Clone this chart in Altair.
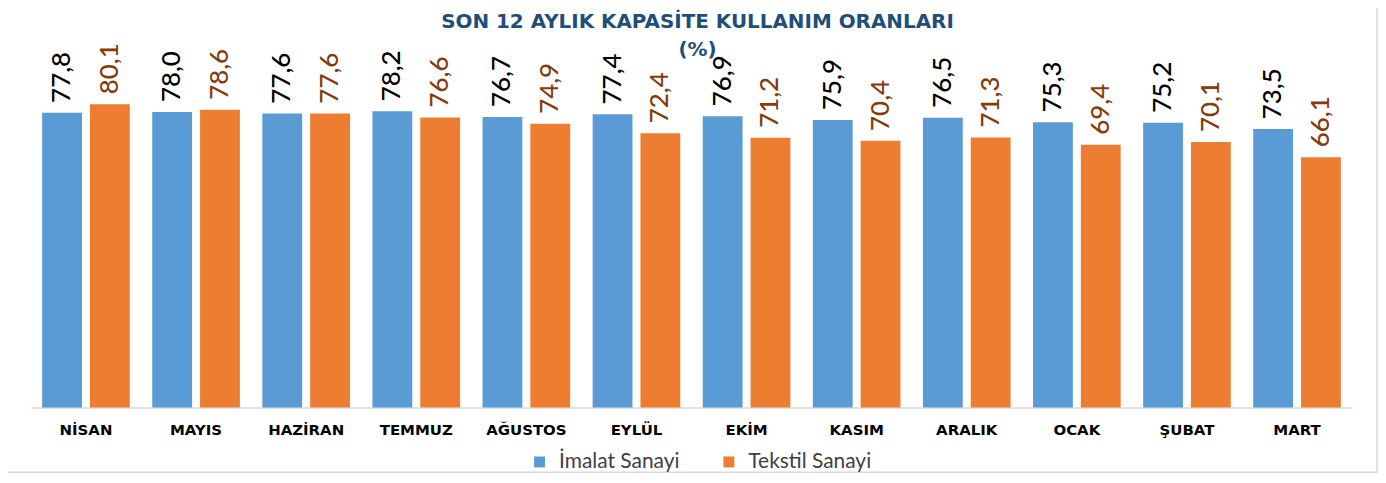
import altair as alt
import pandas as pd

months = ["NİSAN", "MAYIS", "HAZİRAN", "TEMMUZ", "AĞUSTOS", "EYLÜL",
          "EKİM", "KASIM", "ARALIK", "OCAK", "ŞUBAT", "MART"]
series_names = ["İmalat Sanayi", "Tekstil Sanayi"]
imalat = [77.8, 78.0, 77.6, 78.2, 76.7, 77.4, 76.9, 75.9, 76.5, 75.3, 75.2, 73.5]
tekstil = [80.1, 78.6, 77.6, 76.6, 74.9, 72.4, 71.2, 70.4, 71.3, 69.4, 70.1, 66.1]

rows = []
for m, a, b in zip(months, imalat, tekstil):
    rows.append({"ay": m, "seri": series_names[0], "deger": a})
    rows.append({"ay": m, "seri": series_names[1], "deger": b})
df = pd.DataFrame(rows)

W, H = 1326, 342
x_enc = alt.X("ay:N", sort=months, title=None,
              scale=alt.Scale(paddingInner=0.204, paddingOuter=0.102),
              axis=alt.Axis(labelAngle=0, labelFont="DejaVu Sans", labelFontSize=15,
                            labelFontWeight="bold", labelColor="#000000", labelPadding=15,
                            ticks=False, domainColor="#D9D9D9", domainWidth=1.5,
                            grid=False))
xo_enc = alt.XOffset("seri:N", sort=series_names,
                     scale=alt.Scale(paddingInner=0.167, paddingOuter=0))
y_enc = alt.Y("deger:Q", scale=alt.Scale(domain=[0, 90]), axis=None)

base = alt.Chart(df)

bars = base.mark_bar().encode(
    x=x_enc, xOffset=xo_enc, y=y_enc,
    color=alt.Color("seri:N", sort=series_names,
                    scale=alt.Scale(domain=series_names, range=["#5B9BD5", "#ED7D31"]),
                    legend=alt.Legend(title=None, orient="none", direction="horizontal",
                                      legendX=500, legendY=386, symbolType="square",
                                      symbolSize=120, symbolStrokeWidth=0,
                                      labelFont="Lato", labelFontSize=21,
                                      labelColor="#404040", labelOffset=9,
                                      columnPadding=38)),
)

labels = base.transform_calculate(
    lab="replace(format(datum.deger, '.1f'), '.', ',')"
).mark_text(angle=270, align="left", baseline="middle", dx=10,
            font="Lato", fontSize=26, fontWeight=500).encode(
    x=x_enc, xOffset=xo_enc, y=y_enc,
    text="lab:N",
    color=alt.condition(alt.datum.seri == series_names[0],
                        alt.value("#000000"), alt.value("#843C0C")),
)

border = alt.Chart(pd.DataFrame({"k": [0]})).mark_rect(
    fill=None, stroke="#D9D9D9", strokeWidth=1.5).encode(
    x=alt.value(-24), x2=alt.value(1351), y=alt.value(-80), y2=alt.value(407))

chart = alt.layer(border, bars, labels).properties(
    width=W, height=H,
    title=alt.TitleParams(text="SON 12 AYLIK KAPASİTE KULLANIM ORANLARI",
                          subtitle="(%)", anchor="middle", frame="group", dx=6,
                          font="DejaVu Sans", fontSize=20, fontWeight="bold",
                          color="#1F4E79", subtitleFont="DejaVu Sans",
                          subtitleFontSize=20, subtitleFontWeight="bold",
                          subtitleColor="#1F4E79", subtitlePadding=8, offset=-74),
    autosize=alt.AutoSizeParams(type="none"),
    padding={"left": 23, "top": 58, "right": 26, "bottom": 74},
).configure_view(stroke=None)

chart.save("out.html", embed_options={"renderer": "svg", "actions": False})
